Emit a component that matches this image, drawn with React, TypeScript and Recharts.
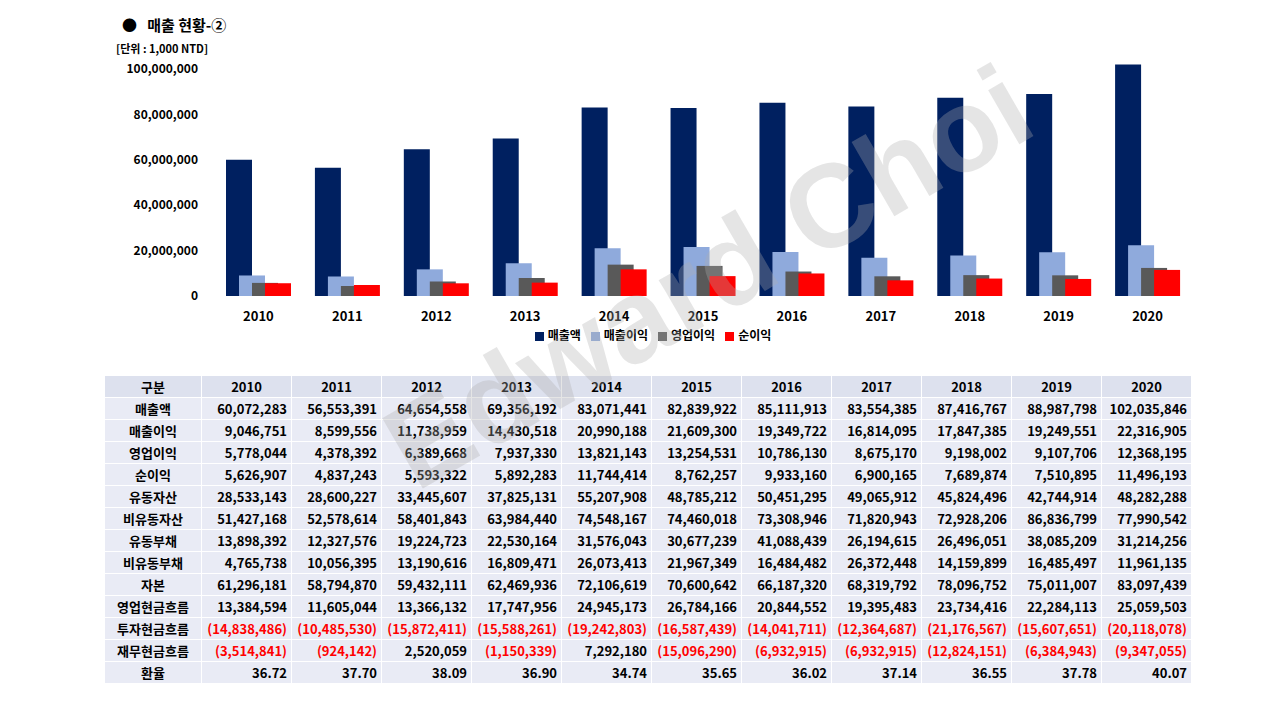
import { BarChart, Bar, XAxis, YAxis, Legend } from "recharts";

const years = ["2010", "2011", "2012", "2013", "2014", "2015", "2016", "2017", "2018", "2019", "2020"];
const seriesNames = ["매출액", "매출이익", "영업이익", "순이익"];

const sales = [60072283, 56553391, 64654558, 69356192, 83071441, 82839922, 85111913, 83554385, 87416767, 88987798, 102035846];
const grossProfit = [9046751, 8599556, 11738959, 14430518, 20990188, 21609300, 19349722, 16814095, 17847385, 19249551, 22316905];
const operatingProfit = [5778044, 4378392, 6389668, 7937330, 13821143, 13254531, 10786130, 8675170, 9198002, 9107706, 12368195];
const netProfit = [5626907, 4837243, 5593322, 5892283, 11744414, 8762257, 9933160, 6900165, 7689874, 7510895, 11496193];
const currentAssets = [28533143, 28600227, 33445607, 37825131, 55207908, 48785212, 50451295, 49065912, 45824496, 42744914, 48282288];
const nonCurrentAssets = [51427168, 52578614, 58401843, 63984440, 74548167, 74460018, 73308946, 71820943, 72928206, 86836799, 77990542];
const currentLiab = [13898392, 12327576, 19224723, 22530164, 31576043, 30677239, 41088439, 26194615, 26496051, 38085209, 31214256];
const nonCurrentLiab = [4765738, 10056395, 13190616, 16809471, 26073413, 21967349, 16484482, 26372448, 14159899, 16485497, 11961135];
const equity = [61296181, 58794870, 59432111, 62469936, 72106619, 70600642, 66187320, 68319792, 78096752, 75011007, 83097439];
const opCashFlow = [13384594, 11605044, 13366132, 17747956, 24945173, 26784166, 20844552, 19395483, 23734416, 22284113, 25059503];
const invCashFlow = [-14838486, -10485530, -15872411, -15588261, -19242803, -16587439, -14041711, -12364687, -21176567, -15607651, -20118078];
const finCashFlow = [-3514841, -924142, 2520059, -1150339, 7292180, -15096290, -6932915, -6932915, -12824151, -6384943, -9347055];
const fxRate = [36.72, 37.70, 38.09, 36.90, 34.74, 35.65, 36.02, 37.14, 36.55, 37.78, 40.07];

const yTicks = [0, 20000000, 40000000, 60000000, 80000000, 100000000];

const chartData = years.map((y, i) => ({
  year: y,
  매출액: sales[i],
  매출이익: grossProfit[i],
  영업이익: operatingProfit[i],
  순이익: netProfit[i],
}));

const tableRows: { label: string; values: number[]; fx?: boolean }[] = [
  { label: "매출액", values: sales },
  { label: "매출이익", values: grossProfit },
  { label: "영업이익", values: operatingProfit },
  { label: "순이익", values: netProfit },
  { label: "유동자산", values: currentAssets },
  { label: "비유동자산", values: nonCurrentAssets },
  { label: "유동부채", values: currentLiab },
  { label: "비유동부채", values: nonCurrentLiab },
  { label: "자본", values: equity },
  { label: "영업현금흐름", values: opCashFlow },
  { label: "투자현금흐름", values: invCashFlow },
  { label: "재무현금흐름", values: finCashFlow },
  { label: "환율", values: fxRate, fx: true },
];

const FONT = "'Noto Sans CJK KR', 'Noto Sans', sans-serif";
const fmt = (n: number) => n.toLocaleString("en-US");
const fmtCell = (n: number, fx?: boolean) =>
  fx ? n.toFixed(2) : n < 0 ? `(${fmt(-n)})` : fmt(n);

export default function App() {
  const cell: React.CSSProperties = {
    background: "#e9ebf5",
    border: "1px solid #fff",
    padding: "0 4px",
    height: 21,
    whiteSpace: "nowrap",
  };
  return (
    <div style={{ position: "absolute", left: 0, top: 0, width: 1280, height: 720, background: "#fff", fontFamily: FONT, fontWeight: 700, overflow: "hidden" }}>
      <div style={{ position: "absolute", left: 122, top: 14, fontSize: 15, color: "#000" }}>●&nbsp;&nbsp;&nbsp;매출 현황-②</div>
      <div style={{ position: "absolute", left: 116, top: 40, fontSize: 11, color: "#000" }}>[단위 : 1,000 NTD]</div>
      <div style={{ position: "absolute", left: 104, top: 50 }}>
        <BarChart width={1100} height={306} data={chartData} margin={{ top: 10, right: 12, left: 20, bottom: 0 }} barGap={-13} barCategoryGap={13}>
          <XAxis dataKey="year" axisLine={false} tickLine={false} tickMargin={10} tick={{ fontSize: 13, fill: "#000", fontWeight: 700 }} />
          <YAxis width={90} domain={[0, 104000000]} ticks={yTicks} tickFormatter={fmt} axisLine={false} tickLine={false} tickMargin={10} tick={{ fontSize: 12, fill: "#000", fontWeight: 700 }} />
          <Legend
            height={30}
            iconType="square"
            iconSize={9}
            itemSorter={(item: any) => seriesNames.indexOf(item.value)}
            wrapperStyle={{ fontSize: 12, color: "#000" }}
            formatter={(v) => <span style={{ color: "#000" }}>{v}</span>}
          />
          <Bar dataKey="매출액" fill="#002060" barSize={26} isAnimationActive={false} />
          <Bar dataKey="매출이익" fill="#8faadc" barSize={26} isAnimationActive={false} />
          <Bar dataKey="영업이익" fill="#595959" barSize={26} isAnimationActive={false} />
          <Bar dataKey="순이익" fill="#ff0000" barSize={26} isAnimationActive={false} />
        </BarChart>
      </div>
      <div style={{ position: "absolute", left: 425, top: 390, fontSize: 118, lineHeight: 1, color: "rgba(175,175,175,0.32)", fontFamily: "Arial, 'Liberation Sans', sans-serif", fontWeight: 700, transform: "rotate(-30deg)", transformOrigin: "left bottom", whiteSpace: "nowrap", zIndex: 2, pointerEvents: "none" }}>
        Edward Choi
      </div>
      <table style={{ position: "absolute", left: 104, top: 375, borderCollapse: "collapse", fontSize: 13, color: "#000", tableLayout: "fixed", width: 1087 }}>
        <colgroup>
          <col style={{ width: 97 }} />
          {years.map((y) => <col key={y} style={{ width: 90 }} />)}
        </colgroup>
        <tbody>
          <tr>
            <td style={{ ...cell, textAlign: "center", background: "#dde1ee" }}>구분</td>
            {years.map((y) => <td key={y} style={{ ...cell, textAlign: "center", background: "#dde1ee" }}>{y}</td>)}
          </tr>
          {tableRows.map((r) => (
            <tr key={r.label}>
              <td style={{ ...cell, textAlign: "center" }}>{r.label}</td>
              {r.values.map((v, i) => (
                <td key={i} style={{ ...cell, textAlign: "right", color: v < 0 ? "#ff0000" : "#000" }}>{fmtCell(v, r.fx)}</td>
              ))}
            </tr>
          ))}
        </tbody>
      </table>
    </div>
  );
}
